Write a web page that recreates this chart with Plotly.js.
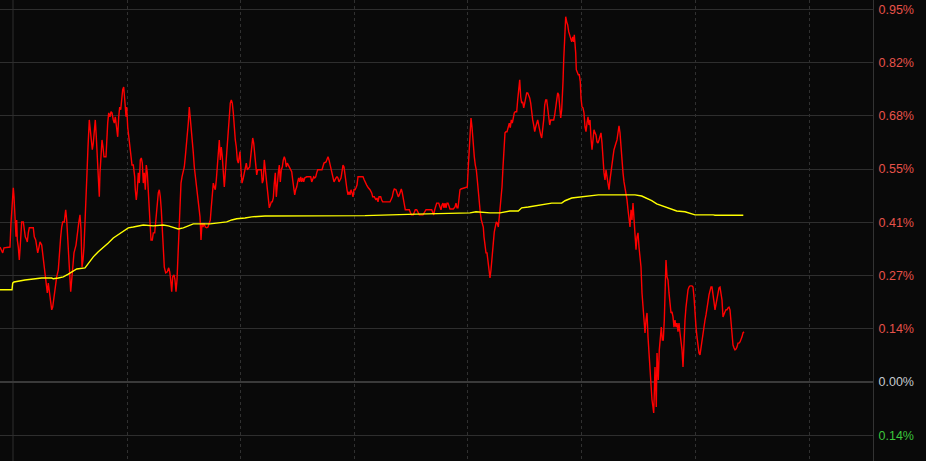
<!DOCTYPE html>
<html>
<head>
<meta charset="utf-8">
<script src="https://cdn.plot.ly/plotly-3.0.1.min.js"></script>
<style>
html,body{margin:0;padding:0;background:#090909;}
#chart{width:926px;height:461px;}
</style>
</head>
<body>
<div id="chart"></div>
<script>
// time index (minute slots) and values in percent
const redT = [0,2.7,4,10,11,12.3,13.3,14,14.7,15.3,16,16.7,17.3,18.3,19.3,20,20.7,21.7,23.3,24.3,25.3,26.7,27.3,28.3,29.3,33.3,34.3,35.7,36.7,37.7,39,40,41.7,42.7,44,45,46,47.3,48.3,49.3,50.7,51.7,52.7,54,55.3,56.7,58.3,59.3,60.7,61.7,62.7,64.3,65.7,66.7,67.7,68.7,69.7,70.7,71.7,72.7,74,76,77.3,78.7,80,81,82,83,84,85,86,87,88,88.7,89.3,90.3,91.3,92.3,93.3,94.3,95.3,96.3,97.3,98.7,99.3,100,101,102,103,104,106,106.7,107.7,108.7,110,111,112,113.3,114.3,115.3,116.7,117.7,118.7,119.7,120.7,121.7,122.7,123.7,124.3,125,126,126.7,127.7,129.3,130.7,132,133.3,134.7,135.3,136.3,137.3,138.3,139.3,140.3,141.3,142.3,143.3,144.3,145.3,146.3,147.3,148.7,150,151,152.3,153.3,154.7,156,157.3,158.3,159.3,160.3,161.3,162.3,163.3,164.3,165.7,167.3,168.7,169.7,170.7,171.7,172.7,174,175,176,177,178,179,180,181,182,183.3,184.3,185.3,186.3,187.3,188.3,189.3,190.3,191.3,192.3,193.3,194.3,195.7,196.7,197.7,198.7,200,201,202,203,204,205.3,206.7,208,209.3,210.3,211.3,212.3,213.3,214.3,215.3,216.3,217.3,218.3,219.3,220.3,221.3,222.3,223.3,224.3,225.3,226.3,227.3,228.3,229.3,230.3,231.3,232.3,233.3,234.3,235.3,236.3,237.3,238.3,239.3,240,241,242,243.3,244.3,245.3,246.3,247.3,248.7,249.7,250.7,251.7,252.7,253.7,254.7,255.7,256.7,257.7,261.3,262.3,263.3,264.3,265.3,266.3,267.3,268.3,269.3,270.3,271.3,272.3,273.3,274.3,275.3,276.3,277.3,278.3,279.3,280.3,281.3,282.3,283.3,284.3,285.3,286.3,287.3,288.3,289.3,290.7,291.7,292.7,293.7,294.7,295.7,296.7,297.7,298.7,299.7,300.7,301.7,302.7,303.7,304.7,306.7,310.7,311.7,312.7,313.7,314.7,315.7,316.7,317.7,322,323,324,326,327,328,329,330,331,332,333,334,336,337,338,339,340,341,342,343,344,345,346,347,348,349,350,351,352,353,354,355,356,357,358,363,364.3,365.3,366.7,368.3,370,371.7,372.7,374.3,376,377,378,379,380.7,381.7,382.7,390,391,392.3,393.3,394.3,396,397.3,398.3,399.3,400.3,401.3,402.3,403.3,404.3,405.3,409.3,410.3,411.3,413.3,414.3,415.3,416.7,418.3,419.3,423,425,426,431.7,432.7,433.7,434.7,435.7,436.7,438.7,440,441,442,443,444,445,446,447,448,449,450,453.3,455,456,457,458,459,460,461,466,467.3,468.3,469.3,470,471,472,472.7,473.3,474.3,475.3,476.3,477.3,478.3,479.3,480.3,481.3,482.3,483.3,484,485,486,487,488,489,490,491,492.3,493.3,494.3,495.3,496.3,497.3,498.3,499.3,500,501,502,503,504,505,506,507,508.3,509.3,510.3,511.3,512.3,513.3,514.3,515.3,516.7,517.7,518.7,519.7,520.7,521.7,522.7,523.7,524.7,525.7,526.7,527.7,528.7,529.7,530.7,531.7,532.7,533.7,534.7,535.7,536.7,537.7,538.7,539.7,540.7,541.7,542.7,543.7,544.7,545.7,546.7,547.7,548.7,549.7,550.7,553.7,554.7,555.7,556.7,557.7,558.7,559.7,560.7,561.7,562.3,563,563.7,564.3,565,565.7,566.7,567.7,568.7,569.7,570.7,571.7,572.7,573.7,574.3,575,575.7,576.3,577.3,578.3,579.3,580.3,581,582,583,584,585,586,587,588,589,590,591,592,593,594,595,596,597,598,599,600,601,602,603,604,605,606,607,608,609,610,611,612,613,614,615,616,617,618,619,620,621,622,623,624,625,626,627,628,629,630,631,632,633,634,635,636,637,638,639,640,641,642,643,644,645,646,647,648,649,650,651,652,653,653.7,654.3,655,655.7,656.3,657,657.7,658.3,659.3,660.3,661.3,662.3,663.3,664.3,665.3,666,667,668,669,670,671,672,673,674,675,676,677,678,679,680,681,682,683,684,685,686,687,688,689,690,692,693,694,695,696,697,698,699,700,701,702,703,704,705,706,707,708,709,710,711,712,713,714,715,716,717,718,719,720,721,722,723,724,725,726,727,728,729,730,731,732,733,734,735,736,737,738,739,740,741,742,743,744];
const redV = [.344,.329,.342,.344,.405,.459,.495,.472,.431,.413,.370,.413,.362,.344,.311,.337,.388,.408,.408,.380,.370,.362,.357,.380,.393,.393,.370,.362,.337,.329,.344,.357,.349,.329,.306,.278,.252,.227,.252,.235,.209,.184,.191,.217,.242,.268,.286,.329,.370,.395,.408,.408,.439,.413,.370,.311,.260,.230,.260,.286,.329,.349,.380,.405,.426,.388,.293,.311,.344,.395,.464,.533,.599,.643,.668,.643,.612,.592,.609,.650,.668,.625,.574,.515,.472,.533,.574,.617,.599,.574,.574,.617,.660,.686,.676,.689,.686,.668,.660,.676,.650,.625,.676,.701,.694,.727,.745,.752,.719,.711,.676,.701,.650,.617,.574,.553,.553,.523,.490,.464,.490,.533,.507,.566,.571,.558,.507,.533,.490,.553,.533,.464,.380,.362,.362,.380,.380,.421,.456,.482,.490,.472,.439,.388,.319,.293,.278,.281,.291,.281,.260,.230,.268,.273,.260,.230,.260,.329,.395,.464,.507,.523,.536,.548,.574,.599,.635,.660,.701,.676,.635,.609,.584,.548,.515,.490,.472,.456,.421,.362,.405,.395,.405,.395,.393,.395,.405,.413,.446,.490,.507,.497,.490,.515,.548,.592,.617,.566,.599,.574,.533,.497,.533,.574,.609,.643,.676,.711,.719,.711,.686,.643,.617,.599,.566,.558,.574,.587,.541,.507,.520,.536,.548,.558,.541,.546,.548,.574,.609,.622,.609,.584,.558,.528,.541,.541,.507,.515,.566,.541,.515,.482,.459,.444,.451,.459,.459,.469,.507,.533,.472,.515,.533,.553,.510,.541,.548,.566,.574,.566,.548,.558,.553,.548,.541,.536,.515,.490,.477,.490,.497,.510,.520,.510,.523,.510,.520,.510,.520,.523,.523,.510,.520,.523,.520,.523,.533,.541,.541,.548,.558,.561,.566,.574,.566,.553,.541,.533,.523,.510,.520,.523,.520,.510,.515,.520,.536,.553,.548,.528,.497,.490,.477,.485,.477,.490,.482,.472,.490,.490,.495,.502,.523,.523,.515,.507,.502,.495,.490,.482,.472,.472,.464,.469,.459,.472,.472,.464,.459,.459,.464,.472,.485,.492,.490,.482,.472,.477,.485,.492,.482,.464,.451,.439,.439,.431,.426,.426,.431,.439,.439,.431,.426,.426,.434,.439,.439,.431,.426,.439,.446,.456,.456,.446,.439,.451,.456,.444,.456,.444,.456,.456,.444,.441,.441,.446,.456,.444,.444,.464,.490,.492,.495,.497,.548,.609,.650,.673,.650,.617,.592,.574,.553,.541,.515,.482,.446,.431,.413,.405,.395,.370,.344,.329,.329,.303,.273,.265,.286,.316,.354,.383,.401,.408,.405,.395,.421,.439,.464,.497,.548,.592,.635,.638,.638,.650,.660,.648,.668,.660,.676,.686,.689,.689,.719,.750,.770,.727,.711,.714,.699,.711,.727,.737,.737,.732,.724,.711,.686,.668,.655,.638,.650,.663,.668,.655,.635,.630,.622,.643,.668,.706,.719,.719,.694,.668,.655,.668,.668,.681,.701,.727,.737,.732,.701,.673,.694,.719,.765,.821,.872,.910,.931,.918,.910,.893,.885,.877,.867,.880,.867,.885,.864,.839,.796,.788,.783,.783,.765,.724,.701,.699,.686,.650,.638,.660,.676,.655,.668,.622,.592,.617,.643,.635,.630,.612,.609,.617,.625,.635,.609,.566,.533,.515,.541,.523,.507,.490,.515,.541,.558,.574,.592,.604,.609,.617,.638,.653,.635,.592,.558,.533,.510,.497,.482,.464,.439,.421,.395,.439,.413,.456,.405,.370,.337,.370,.380,.344,.311,.293,.227,.196,.179,.125,.158,.176,.115,.074,.023,-.028,-.046,-.064,-.079,-.028,.038,-.013,-.064,.074,.038,.005,.082,.125,.140,.107,.107,.158,.227,.311,.268,.260,.227,.191,.176,.179,.166,.140,.158,.140,.150,.128,.150,.125,.107,.082,.038,.115,.158,.191,.217,.235,.242,.245,.245,.242,.217,.166,.140,.115,.089,.074,.069,.089,.107,.125,.140,.158,.171,.184,.204,.222,.235,.242,.242,.227,.204,.184,.201,.214,.227,.240,.242,.227,.209,.166,.176,.179,.184,.184,.189,.191,.184,.150,.125,.094,.087,.082,.084,.089,.099,.099,.102,.107,.115,.125,.128];

const avgT = [0,12,12.7,14,25,35,41.7,51.7,53.3,58.3,63.3,68.3,71.7,76.7,85,88.3,93.3,98.3,103.3,108.3,113.3,118.3,123.3,128.3,133.3,143.3,153.3,163.3,168.3,173.3,178.3,183.3,188.3,193.3,210,220,226.7,231.7,236.7,245,251.7,265,300,365,416.7,470,476,490,500,505,510,518.3,521.7,528.3,535,543.3,551.7,561.7,565,571.7,580,586.7,598.3,615,635,641.7,646.7,651.7,656.7,661.7,668.3,676.7,685,693.3,695,713.3,715,743.3];
const avgV = [.235,.235,.252,.255,.260,.263,.265,.265,.263,.265,.268,.275,.281,.288,.291,.303,.319,.332,.342,.354,.367,.375,.383,.393,.395,.400,.398,.400,.398,.393,.390,.393,.398,.403,.403,.405,.408,.413,.416,.418,.421,.423,.424,.424,.428,.431,.434,.431,.431,.434,.436,.436,.444,.446,.449,.454,.456,.456,.462,.469,.472,.474,.477,.477,.477,.474,.469,.462,.454,.449,.444,.436,.434,.428,.426,.426,.425,.425];

const gridStep = 0.95 / 7;
const tickVals = [-1,0,1,2,3,4,5,6,7].map(k => k * gridStep);
const tickLabels = ['0.14%','0.00%','0.14%','0.27%','0.41%','0.55%','0.68%','0.82%','0.95%'];
const tickColors = ['#3cc63c','#c4c9cf','#e6524a','#e6524a','#e6524a','#e6524a','#e6524a','#e6524a','#e6524a'];
const timeMarks = [127,240,354,467,581,695,809];

const traces = [
  {x: redT, y: redV, type: 'scatter', mode: 'lines',
   line: {color: '#ff0000', width: 1.4}, hoverinfo: 'skip'},
  {x: avgT, y: avgV, type: 'scatter', mode: 'lines',
   line: {color: '#ffff00', width: 1.4}, hoverinfo: 'skip'}
];

const layout = {
  width: 926, height: 461,
  paper_bgcolor: '#090909', plot_bgcolor: '#090909',
  margin: {l: 0, r: 53, t: 0, b: 0},
  showlegend: false,
  font: {family: 'Liberation Sans, Arial, sans-serif', size: 12},
  xaxis: {
    range: [0, 873], tickvals: timeMarks, showticklabels: false,
    showgrid: true, gridcolor: '#303030', griddash: 'dot', gridwidth: 1,
    zeroline: false, showline: false, fixedrange: true
  },
  yaxis: {
    range: [-0.2014, 0.9737], side: 'right',
    tickvals: tickVals,
    ticktext: tickLabels.map((t, i) => '<span style="color:' + tickColors[i] + '">' + t + '</span>'),
    ticks: '', ticklabelstandoff: 2,
    showgrid: true, gridcolor: '#2e2e2e', gridwidth: 1,
    zeroline: true, zerolinecolor: '#3a3a3a', zerolinewidth: 2,
    showline: true, linecolor: '#333333', linewidth: 1,
    tickfont: {size: 12.5, color: '#e6524a'}, fixedrange: true
  },
  shapes: [
    {type: 'line', xref: 'x', yref: 'paper', x0: 13, x1: 13, y0: 0, y1: 1,
     line: {color: '#2e2e2e', width: 1}, layer: 'below'}
  ]
};

Plotly.newPlot('chart', traces, layout, {staticPlot: true, displayModeBar: false});
</script>
</body>
</html>
